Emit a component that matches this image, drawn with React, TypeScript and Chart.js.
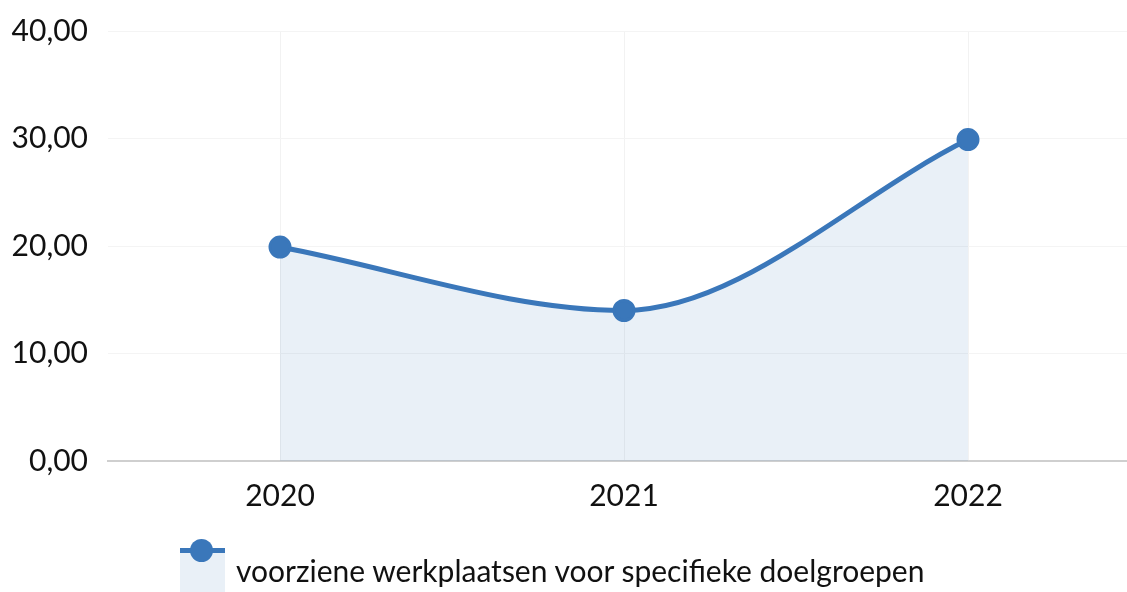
import React, { useEffect, useRef } from "react";
import { Chart, registerables } from "chart.js";

Chart.register(...registerables);

const categories = ["2020", "2021", "2022"];
const values = [19.9, 14.0, 29.9];
const yMin = 0;
const yMax = 40;
const yStep = 10;
const seriesLabel = "voorziene werkplaatsen voor specifieke doelgroepen";

const LINE = "rgb(58,119,186)";
const FILL = "rgba(58,119,186,0.11)";
const FONT = "Lato";

export default function App() {
  const ref = useRef<HTMLCanvasElement | null>(null);

  useEffect(() => {
    if (!ref.current) return;
    const chart = new Chart(ref.current, {
      type: "line",
      data: {
        labels: categories,
        datasets: [
          {
            label: seriesLabel,
            data: values,
            borderColor: LINE,
            backgroundColor: FILL,
            borderWidth: 5,
            fill: "origin",
            cubicInterpolationMode: "monotone",
            pointRadius: 10,
            pointBorderWidth: 3,
            pointBackgroundColor: LINE,
            pointBorderColor: LINE,
          },
        ],
      },
      options: {
        responsive: false,
        animation: false,
        layout: { padding: { top: 31, bottom: 71, left: 0, right: 0 } },
        plugins: { legend: { display: false }, tooltip: { enabled: false } },
        scales: {
          x: {
            offset: true,
            afterFit: (s: any) => {
              s.height = 60;
            },
            grid: { color: "#f2f2f2", lineWidth: 1, drawTicks: false },
            border: { color: "#cfcfcf", width: 2 },
            ticks: {
              padding: 17,
              color: "#111",
              font: { family: FONT, size: 30 },
            },
          },
          y: {
            min: yMin,
            max: yMax,
            afterFit: (s: any) => {
              s.width = 108;
              s.paddingTop = 0;
              s.paddingBottom = 0;
            },
            grid: { color: "#f4f4f4", lineWidth: 1, drawTicks: false },
            border: { display: false },
            ticks: {
              stepSize: yStep,
              padding: 20,
              color: "#111",
              font: { family: FONT, size: 30 },
              callback: (v: any) => Number(v).toFixed(2).replace(".", ","),
            },
          },
        },
      },
    });
    return () => chart.destroy();
  }, []);

  return (
    <div
      style={{
        position: "fixed",
        left: 0,
        top: 0,
        width: 1127,
        height: 592,
        overflow: "hidden",
        background: "#fff",
      }}
    >
      <canvas
        ref={ref}
        width={1153}
        height={592}
        style={{ position: "absolute", left: 0, top: 0, width: 1153, height: 592 }}
      />
      <div
        style={{
          position: "absolute",
          left: 180,
          top: 551,
          width: 45,
          height: 41,
          background: FILL,
        }}
      />
      <div
        style={{
          position: "absolute",
          left: 180,
          top: 548,
          width: 45,
          height: 5,
          background: LINE,
        }}
      />
      <div
        style={{
          position: "absolute",
          left: 190,
          top: 539,
          width: 23,
          height: 23,
          borderRadius: "50%",
          background: LINE,
        }}
      />
      <span
        style={{
          position: "absolute",
          left: 236,
          top: 552,
          fontFamily: FONT,
          fontSize: 30,
          lineHeight: "normal",
          color: "#111",
          whiteSpace: "nowrap",
        }}
      >
        {seriesLabel}
      </span>
    </div>
  );
}
